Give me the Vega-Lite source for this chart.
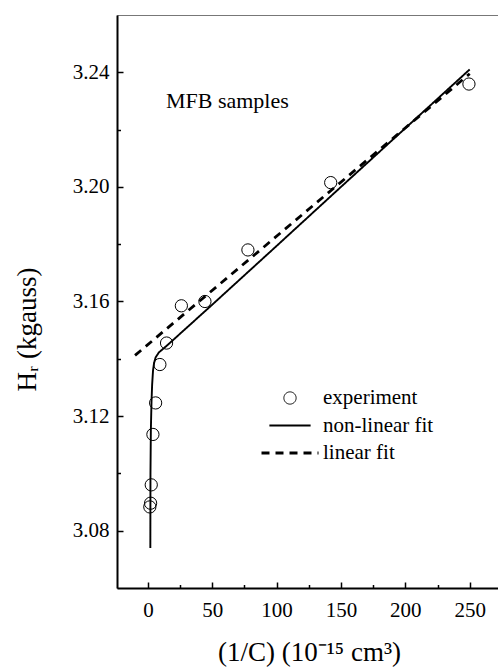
{
  "$schema": "https://vega.github.io/schema/vega-lite/v6.json",
  "width": 384,
  "height": 573,
  "autosize": {"type": "none"},
  "padding": {"left": 117, "top": 15, "right": 0, "bottom": 81},
  "background": "white",
  "config": {
    "font": "Liberation Serif",
    "view": {"stroke": "#777", "strokeWidth": 1},
    "axis": {
      "grid": false,
      "domainColor": "black",
      "domainWidth": 2,
      "tickColor": "black",
      "tickWidth": 1.5,
      "labelFont": "Liberation Serif",
      "labelFontSize": 21,
      "labelColor": "black",
      "titleFont": "Liberation Serif",
      "titleFontSize": 27,
      "titleColor": "black",
      "titleFontWeight": "normal"
    },
    "legend": {
      "orient": "none",
      "legendX": 143,
      "legendY": 373,
      "labelFont": "Liberation Serif",
      "labelFontSize": 21,
      "labelColor": "black",
      "labelOffset": 3,
      "clipHeight": 20,
      "rowPadding": 6.5,
      "title": null
    }
  },
  "datasets": {
    "exp": [
      {"x": 1.5, "y": 3.0883, "series": "experiment"},
      {"x": 2.1, "y": 3.0896, "series": "experiment"},
      {"x": 2.6, "y": 3.096, "series": "experiment"},
      {"x": 3.9, "y": 3.1136, "series": "experiment"},
      {"x": 6.0, "y": 3.1246, "series": "experiment"},
      {"x": 9.3, "y": 3.138, "series": "experiment"},
      {"x": 14.5, "y": 3.1455, "series": "experiment"},
      {"x": 26, "y": 3.1585, "series": "experiment"},
      {"x": 44.3, "y": 3.16, "series": "experiment"},
      {"x": 77.7, "y": 3.178, "series": "experiment"},
      {"x": 142, "y": 3.2015, "series": "experiment"},
      {"x": 249.4, "y": 3.2359, "series": "experiment"}
    ],
    "fits": [
      {"x": 1.9, "y": 3.074, "series": "non-linear fit"},
      {"x": 2.0, "y": 3.1, "series": "non-linear fit"},
      {"x": 2.3, "y": 3.115, "series": "non-linear fit"},
      {"x": 2.8, "y": 3.125, "series": "non-linear fit"},
      {"x": 3.3, "y": 3.131, "series": "non-linear fit"},
      {"x": 4.0, "y": 3.136, "series": "non-linear fit"},
      {"x": 4.8, "y": 3.1385, "series": "non-linear fit"},
      {"x": 6, "y": 3.1405, "series": "non-linear fit"},
      {"x": 8.5, "y": 3.1422, "series": "non-linear fit"},
      {"x": 15, "y": 3.1447, "series": "non-linear fit"},
      {"x": 50, "y": 3.1589, "series": "non-linear fit"},
      {"x": 100, "y": 3.1794, "series": "non-linear fit"},
      {"x": 150, "y": 3.2, "series": "non-linear fit"},
      {"x": 200, "y": 3.2205, "series": "non-linear fit"},
      {"x": 250, "y": 3.241, "series": "non-linear fit"},
      {"x": -10, "y": 3.1412, "series": "linear fit"},
      {"x": 250, "y": 3.2395, "series": "linear fit"}
    ],
    "note": [
      {"x": 14, "y": 3.23, "label": "MFB samples"}
    ]
  },
  "layer": [
    {
      "data": {"name": "exp"},
      "mark": {"type": "point", "filled": false, "color": "black", "strokeWidth": 1, "opacity": 1},
      "encoding": {
        "x": {
          "field": "x", "type": "quantitative",
          "scale": {"domain": [-24, 274.3], "nice": false, "zero": false},
          "axis": {
            "orient": "bottom",
            "values": [0, 50, 100, 150, 200, 250],
            "tickSize": -6,
            "labelPadding": 17,
            "title": "(1/C) (10⁻¹⁵ cm³)",
            "titleY": 64,
            "titleBaseline": "middle"
          }
        },
        "y": {
          "field": "y", "type": "quantitative",
          "scale": {"domain": [3.06, 3.26], "nice": false, "zero": false},
          "axis": {
            "orient": "left",
            "values": [3.08, 3.12, 3.16, 3.2, 3.24],
            "format": ".2f",
            "tickSize": -6,
            "labelPadding": 14,
            "title": "Hᵣ (kgauss)",
            "titleX": -90,
            "titleY": 314,
            "titleBaseline": "middle"
          }
        },
        "shape": {
          "field": "series", "type": "nominal",
          "scale": {"domain": ["experiment", "non-linear fit", "linear fit"], "range": ["circle", "stroke", "stroke"]},
          "legend": {"title": null}
        },
        "size": {
          "field": "series", "type": "nominal",
          "scale": {"domain": ["experiment", "non-linear fit", "linear fit"], "range": [150, 3249, 3249]},
          "legend": {"title": null}
        }
      }
    },
    {
      "data": {"name": "fits"},
      "mark": {"type": "line", "color": "black"},
      "encoding": {
        "x": {
          "field": "x", "type": "quantitative",
          "axis": {"orient": "bottom", "values": [25, 75, 125, 175, 225], "labels": false, "domain": false, "tickSize": -3.5, "title": null}
        },
        "y": {
          "field": "y", "type": "quantitative",
          "axis": {"orient": "left", "values": [3.1, 3.14, 3.18, 3.22], "labels": false, "domain": false, "tickSize": -3.5, "title": null}
        },
        "strokeDash": {
          "field": "series", "type": "nominal",
          "scale": {"domain": ["experiment", "non-linear fit", "linear fit"], "range": [[1, 0], [1, 0], [8, 6]]},
          "legend": {"title": null}
        },
        "strokeWidth": {
          "field": "series", "type": "nominal",
          "scale": {"domain": ["experiment", "non-linear fit", "linear fit"], "range": [1, 2.8, 2.8]},
          "legend": {"title": null}
        }
      }
    },
    {
      "data": {"name": "note"},
      "mark": {"type": "text", "align": "left", "baseline": "middle", "fontSize": 22, "font": "Liberation Serif", "color": "black"},
      "encoding": {
        "x": {"field": "x", "type": "quantitative", "axis": null},
        "y": {"field": "y", "type": "quantitative", "axis": null},
        "text": {"field": "label"}
      }
    }
  ],
  "resolve": {"axis": {"x": "independent", "y": "independent"}}
}
